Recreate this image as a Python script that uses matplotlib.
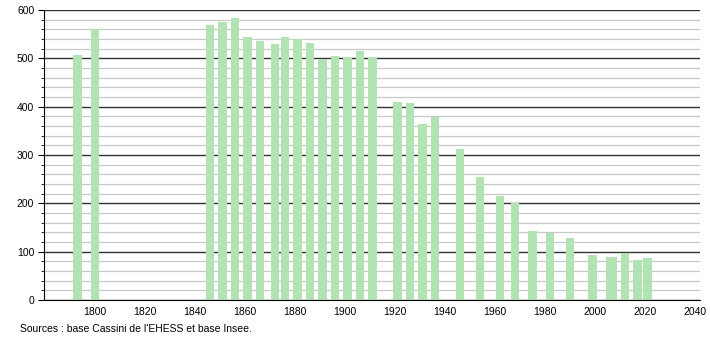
import matplotlib
matplotlib.use('Agg')
import matplotlib.pyplot as plt
from matplotlib.ticker import MultipleLocator

plt.rcParams['font.family'] = ['Liberation Sans', 'DejaVu Sans']

years = [1793, 1800, 1846, 1851, 1856, 1861, 1866, 1872, 1876, 1881, 1886,
         1891, 1896, 1901, 1906, 1911, 1921, 1926, 1931, 1936, 1946, 1954,
         1962, 1968, 1975, 1982, 1990, 1999, 2006, 2007, 2012, 2017, 2021]
population = [507, 561, 570, 575, 583, 544, 536, 530, 544, 539, 532,
              499, 505, 503, 515, 503, 410, 408, 364, 378, 312, 255,
              216, 201, 143, 139, 128, 93, 90, 88, 98, 83, 87]
xticks = [1800, 1820, 1840, 1860, 1880, 1900, 1920, 1940, 1960, 1980, 2000, 2020, 2040]
source = "Sources : base Cassini de l'EHESS et base Insee."

fig = plt.figure(figsize=(7.1, 3.4), dpi=100)
ax = fig.add_axes([44/710, 40/340, 656/710, 290/340])

ax.bar(years, population, width=3.5, color='#b2e3b2', zorder=3)

ax.set_xlim(1779.6, 2042)
ax.set_ylim(0, 600)
ax.set_xticks(xticks)
ax.yaxis.set_major_locator(MultipleLocator(100))
ax.yaxis.set_minor_locator(MultipleLocator(20))
ax.grid(axis='y', which='minor', color='#c8c8c8', linewidth=0.9, zorder=1)
ax.grid(axis='y', which='major', color='#333333', linewidth=1.0, zorder=2)

for s in ['top', 'right']:
    ax.spines[s].set_visible(False)
ax.spines['left'].set_color('black')
ax.spines['bottom'].set_color('black')
ax.spines['bottom'].set_zorder(4)
ax.tick_params(axis='x', length=0, labelsize=7.5, pad=5)
ax.tick_params(axis='y', which='major', length=4, labelsize=7.5, pad=3)
ax.tick_params(axis='y', which='minor', length=2)

fig.text(20/710, 1 - 329/340, source, fontsize=7.5, va='center', ha='left')

plt.savefig('out.png', dpi=100)
